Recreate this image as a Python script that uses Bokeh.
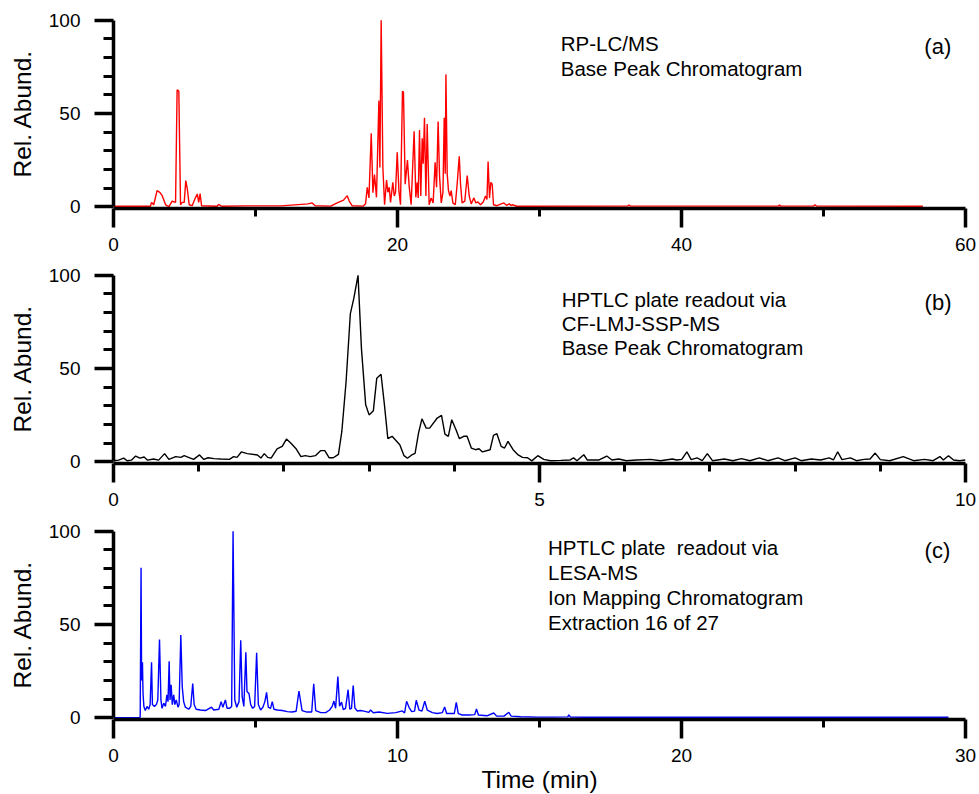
from bokeh.plotting import figure
from bokeh.models import Range1d, FixedTicker, Label
from bokeh.layouts import column
from bokeh.embed import file_html
from bokeh.resources import INLINE

FONT = "Liberation Sans"

# (a) RP-LC/MS base peak chromatogram, 0-60 min
rp_time = [0, 2.6, 2.68, 2.83, 3.07, 3.26, 3.43, 3.67, 3.9, 4.13, 4.37, 4.48, 4.6, 4.72, 4.84, 4.98,
           5.09, 5.19, 5.33, 5.54, 5.78, 5.9, 6.0, 6.1, 6.2, 7.3, 7.4, 7.6, 9.3, 11.8, 13.7, 13.99, 14.2,
           15.3, 15.75, 16.2, 16.46, 16.6, 16.8, 17.6, 17.75, 17.87, 17.99, 18.15, 18.27, 18.38, 18.52,
           18.69, 18.76, 18.85, 18.97, 19.09, 19.23, 19.32, 19.42, 19.51, 19.67, 19.77, 19.86, 19.98,
           20.1, 20.21, 20.35, 20.42, 20.54, 20.7, 20.82, 20.96, 21.17, 21.29, 21.39, 21.46, 21.55,
           21.64, 21.74, 21.81, 21.9, 22.0, 22.09, 22.23, 22.37, 22.51, 22.65, 22.75, 22.86, 22.96,
           23.08, 23.2, 23.29, 23.36, 23.41, 23.5, 23.59, 23.69, 23.78, 23.9, 24.07, 24.2, 24.35,
           24.44, 24.55, 24.74, 24.91, 25.05, 25.19, 25.38, 25.52, 25.66, 25.85, 26.04, 26.2, 26.3,
           26.38, 26.48, 26.57, 26.67, 26.76, 27.0, 27.49, 27.68, 27.87, 28.0, 28.14, 28.4, 36.2, 36.3,
           36.4, 46.8, 46.9, 47.0, 49.3, 49.4, 49.5, 57.0]
rp_abund = [0.2, 0.2, 2.3, 1, 8.6, 7.7, 5.9, 1, 0, 2.9, 2.3, 62.7, 62, 1, 2.3, 2.3,
            14, 10, 1, 0.5, 5, 6.8, 2.3, 7, 0.5, 0.2, 1.2, 0.2, 0.4, 0.4, 1.5, 2, 0.5,
            0.3, 2, 3.5, 5.9, 3, 0.5, 0.3, 1.5, 10.4, 4.7, 39.4, 7.5, 17.2, 5,
            57, 21, 100, 21, 1, 14.3, 7.7, 10.4, 2.2, 13, 5.7, 7.7, 29.2,
            8.6, 1, 62, 61.5, 12, 25, 11, 1, 40.5, 5, 13, 4.7, 41.2,
            5.7, 36.7, 23, 47.7, 5.7, 44.4, 1, 4.7, 2, 23.8, 10.4, 45.7, 16.6,
            2, 7.7, 47.7, 17.6, 71, 17.6, 8.6, 5.7, 8.6, 2, 1, 12, 27,
            12, 2, 3, 16.7, 5.7, 1.5, 4.7, 2, 2.5, 1, 2.5, 5.7, 3.8,
            24.2, 4.7, 13, 12, 1, 0.5, 2, 0.7, 1.5, 0.7, 1, 0.2, 0.3, 0.8,
            0.3, 0.3, 0.8, 0.3, 0.3, 1.0, 0.3, 0.2]

# (b) HPTLC plate readout via CF-LMJ-SSP-MS, 0-10 min
cf_time = [0, 0.06, 0.12, 0.16, 0.21, 0.26, 0.31, 0.36, 0.4, 0.47, 0.53, 0.6, 0.65, 0.73, 0.79, 0.83,
           0.88, 0.94, 1.01, 1.06, 1.11, 1.18, 1.26, 1.36, 1.41, 1.45, 1.5, 1.57, 1.69, 1.73, 1.77, 1.81,
           1.85, 1.92, 1.98, 2.03, 2.08, 2.14, 2.2, 2.25, 2.31, 2.37, 2.43, 2.48, 2.53, 2.58, 2.64, 2.68,
           2.73, 2.78, 2.82, 2.87, 2.91, 2.96, 3.0, 3.05, 3.09, 3.14, 3.18, 3.22, 3.27, 3.36, 3.41, 3.45,
           3.5, 3.54, 3.58, 3.62, 3.67, 3.71, 3.8, 3.85, 3.89, 3.93, 3.97, 4.02, 4.06, 4.11, 4.15, 4.2,
           4.25, 4.29, 4.33, 4.42, 4.46, 4.5, 4.55, 4.59, 4.63, 4.69, 4.75, 4.8, 4.86, 4.91, 4.98, 5.05,
           5.13, 5.25, 5.36, 5.4, 5.44, 5.52, 5.56, 5.7, 5.79, 5.85, 5.93, 6.02, 6.14, 6.25, 6.3, 6.42,
           6.56, 6.61, 6.67, 6.73, 6.78, 6.85, 6.91, 6.97, 7.03, 7.17, 7.27, 7.37, 7.47, 7.58, 7.68, 7.8,
           7.88, 8.0, 8.07, 8.19, 8.3, 8.4, 8.45, 8.5, 8.55, 8.65, 8.72, 8.81, 8.88, 8.94, 9.0, 9.11,
           9.27, 9.39, 9.52, 9.62, 9.7, 9.74, 9.8, 9.86, 9.93, 10.0]
cf_abund = [0.5, 0.8, 1.9, 0.5, 0.8, 3, 1.9, 2.5, 0.8, 1.4, 0.8, 4.3, 1.2, 2.7, 2.3, 3.2,
            2.3, 1.2, 3.6, 1.2, 2.1, 1.6, 1.4, 1.2, 2.7, 2.3, 5.2, 4.3, 3.6, 1.9, 4.3, 2.3,
            1.9, 6.8, 8.2, 12.1, 10, 7.1, 2.7, 3.2, 2.7, 3.2, 5.9, 5.9, 2.1, 2.1, 3.9, 16.2,
            43, 79.5, 87.5, 100, 60.8, 30.5, 25.1, 27.3, 44.8, 46.9, 30.5, 12.3, 13.6, 9.1, 3.2, 1.8,
            3.6, 4.5, 15.3, 23, 18, 18, 23.4, 24.8, 14.8, 13.6, 22.5, 17.1, 12.3, 13.6, 13.6, 7.3,
            6.4, 6.9, 5.2, 6.4, 14.1, 15, 8.2, 7.3, 10.9, 6.4, 3.6, 2.3, 2.1, 0.4, 3.2, 1.2,
            0.5, 0.7, 0.9, 2, 0.5, 3.7, 0.9, 0.9, 3, 0.9, 1.4, 0.5, 0.9, 1.1, 1.2, 0.5,
            1.4, 0.9, 1.2, 5.3, 1.1, 2, 0.5, 4.3, 0.5, 1.4, 0.5, 1.6, 0.5, 2, 0.5, 2,
            0.5, 2, 0.5, 1.4, 0.9, 2, 0.9, 5.3, 1.1, 2, 0.5, 1.2, 1.4, 4.6, 1.1, 0.5,
            2.7, 0.5, 1.2, 0.5, 2.7, 0.9, 3.2, 0.9, 0.5, 0.9]

# (c) HPTLC plate readout via LESA-MS, ion mapping chromatogram, 0-30 min
lesa_time = [0, 0.92, 0.94, 0.97, 0.99, 1.02, 1.04, 1.07, 1.12, 1.18, 1.24, 1.29, 1.34, 1.37, 1.44,
             1.51, 1.56, 1.62, 1.67, 1.71, 1.77, 1.83, 1.88, 1.92, 1.96, 1.99, 2.03, 2.07, 2.12, 2.16,
             2.21, 2.27, 2.31, 2.37, 2.42, 2.47, 2.53, 2.65, 2.72, 2.79, 2.84, 2.91, 3.06, 3.24, 3.45,
             3.53, 3.71, 3.79, 3.85, 3.94, 4.0, 4.09, 4.16, 4.21, 4.27, 4.34, 4.42, 4.48, 4.53, 4.59,
             4.66, 4.7, 4.77, 4.83, 4.9, 4.97, 5.04, 5.1, 5.18, 5.26, 5.33, 5.39, 5.45, 5.53, 5.59,
             5.65, 5.77, 5.94, 6.12, 6.29, 6.43, 6.53, 6.64, 6.81, 6.98, 7.05, 7.12, 7.3, 7.47, 7.61,
             7.7, 7.76, 7.82, 7.9, 7.96, 8.03, 8.09, 8.17, 8.26, 8.32, 8.38, 8.44, 8.5, 8.58, 8.7,
             8.82, 8.99, 9.05, 9.15, 9.35, 9.64, 9.94, 10.17, 10.25, 10.32, 10.41, 10.5, 10.6, 10.66,
             10.76, 10.86, 10.96, 11.05, 11.23, 11.4, 11.58, 11.66, 11.73, 11.93, 12.0, 12.07, 12.14,
             12.28, 12.52, 12.72, 12.78, 12.85, 13.15, 13.39, 13.49, 13.75, 13.92, 14.0, 14.34, 14.93,
             15.5, 16.0, 16.03, 16.09, 16.6, 29.4]
lesa_abund = [0, 0, 0.5, 80.5, 20, 29.7, 13, 6, 3.8, 6, 4.5, 7, 29.7, 7, 6,
              7, 9.5, 42, 9.5, 5, 7.8, 6, 12.2, 8.6, 30.3, 9.5, 17.6, 7, 12.2, 7,
              9.5, 5.6, 7, 44.4, 16.7, 8.6, 5.6, 4.5, 6, 18.3, 7, 4.5, 4.1, 3.8, 5.6,
              4.1, 4.5, 8.6, 5.6, 9.5, 5, 5, 6, 100, 9.5, 5.6, 8.6, 41.6, 11.3, 6,
              35.1, 14, 13, 7, 5, 6, 34.8, 7, 4.1, 5.6, 8.6, 13.6, 5.6, 5, 8.6,
              4.5, 4.1, 3.8, 3.2, 3, 3.4, 14.2, 3.8, 3, 3, 18.1, 3.8, 2.7, 2.7, 4.1,
              6, 8.9, 5, 22, 6.2, 8.3, 4.3, 5, 15, 4.5, 5, 17.2, 5.2, 3.6, 3.8,
              3.5, 2.8, 4.1, 2.6, 3, 2.3, 2.7, 3.6, 2.5, 8.8, 5.4, 3.2, 3.5, 9.3,
              4, 3.5, 8.8, 4, 2.7, 2.2, 2.7, 5.7, 2.2, 2.2, 2.2, 8.2, 2.2,
              1.4, 1.4, 1.6, 4.6, 1.4, 1, 2.5, 0.8, 0.8, 2.9, 0.8, 0.5, 0.3,
              0.3, 0.4, 1.5, 0.3, 0.2, 0.2]

y_major = [0, 50, 100]
y_minor = [10, 20, 30, 40, 60, 70, 80, 90]


def make_panel(x_end, x_major, x_minor, time, abund, color, notes, tag, tag_x, border_top,
               border_bottom, x_label=None):
    p = figure(frame_width=852, frame_height=190,
               x_range=Range1d(0, x_end), y_range=Range1d(-1, 101),
               output_backend="svg", toolbar_location=None,
               min_border_left=113, min_border_right=14,
               min_border_top=border_top, min_border_bottom=border_bottom,
               outline_line_color=None, background_fill_color="white")
    p.xgrid.visible = False
    p.ygrid.visible = False

    p.line(time, abund, line_color=color, line_width=1.4)

    p.xaxis.ticker = FixedTicker(ticks=x_major, minor_ticks=x_minor)
    p.yaxis.ticker = FixedTicker(ticks=y_major, minor_ticks=y_minor)
    p.yaxis.bounds = (0, 100)

    for ax in (p.xaxis[0], p.yaxis[0]):
        ax.axis_line_width = 3.5
        ax.axis_line_color = "black"
        ax.major_tick_line_width = 3.5
        ax.minor_tick_line_width = 3
        ax.major_tick_line_color = "black"
        ax.minor_tick_line_color = "black"
        ax.major_tick_in = 0
        ax.minor_tick_in = 0
        ax.major_tick_out = 19
        ax.major_label_text_font = FONT
        ax.major_label_text_font_size = "19px"
        ax.major_label_text_color = "black"
        ax.axis_label_text_font = FONT
        ax.axis_label_text_font_size = "24.5px"
        ax.axis_label_text_font_style = "normal"
        ax.axis_label_text_color = "black"

    p.xaxis.minor_tick_out = 8
    p.yaxis.minor_tick_out = 10
    p.xaxis.major_label_standoff = 10
    p.yaxis.major_label_standoff = 14
    p.yaxis.axis_label = "Rel. Abund."
    p.yaxis.axis_label_standoff = 10
    if x_label:
        p.xaxis.axis_label = x_label
        p.xaxis.axis_label_standoff = 1

    for text, x, y in notes:
        p.add_layout(Label(x=x, y=y, text=text, text_font=FONT, text_font_size="20.5px",
                           text_baseline="middle", text_align="left", text_color="black"))
    p.add_layout(Label(x=tag_x, y=notes[0][2] - 1.5, text=tag, text_font=FONT,
                       text_font_size="22px", text_baseline="middle", text_align="left",
                       text_color="black"))
    return p


pa = make_panel(60, [0, 20, 40, 60], [10, 30, 50], rp_time, rp_abund, "#ff0000",
                [("RP-LC/MS", 31.5, 87.6), ("Base Peak Chromatogram", 31.5, 74.2)],
                "(a)", 57.1, 18, 50)
pb = make_panel(10, [0, 5, 10], [1, 2, 3, 4, 6, 7, 8, 9], cf_time, cf_abund, "#000000",
                [("HPTLC plate readout via", 5.26, 86.8), ("CF-LMJ-SSP-MS", 5.26, 74.3),
                 ("Base Peak Chromatogram", 5.26, 61.2)],
                "(b)", 9.52, 15, 50)
pc = make_panel(30, [0, 10, 20, 30], [5, 15, 25], lesa_time, lesa_abund, "#0000ff",
                [("HPTLC plate\u00a0 readout via", 15.3, 91.2), ("LESA-MS", 15.3, 77.8),
                 ("Ion Mapping Chromatogram", 15.3, 64.4), ("Extraction 16 of 27", 15.3, 51.2)],
                "(c)", 28.56, 16, 75, x_label="Time (min)")

layout = column(pa, pb, pc, spacing=0)
open("out.html", "w").write(file_html(layout, INLINE))
